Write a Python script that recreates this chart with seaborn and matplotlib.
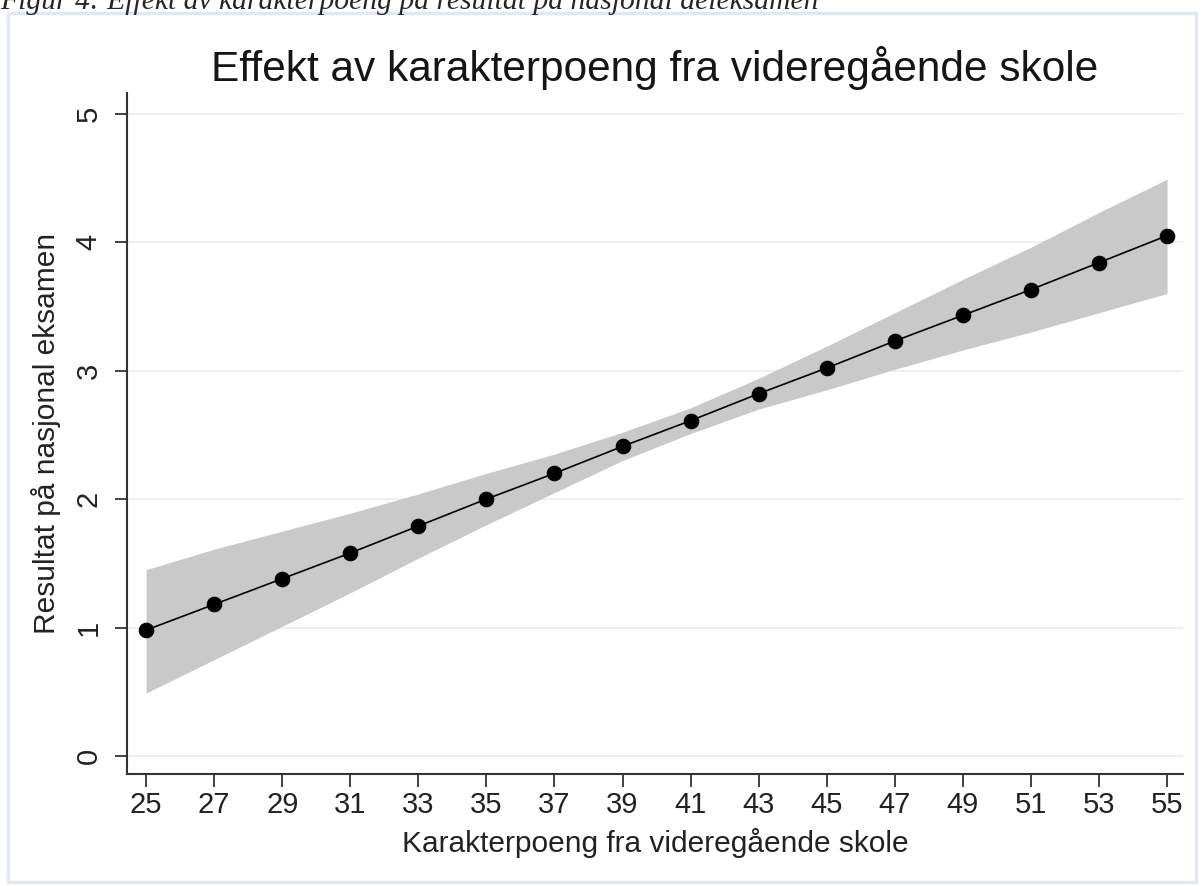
import pandas as pd
import matplotlib
matplotlib.use("Agg")
import matplotlib.pyplot as plt
from matplotlib.patches import Rectangle
import seaborn as sns

# karakterpoeng (x) og predikert resultat med konfidensintervall
poeng = [25, 27, 29, 31, 33, 35, 37, 39, 41, 43, 45, 47, 49, 51, 53, 55]
resultat = [0.98, 1.18, 1.38, 1.58, 1.79, 2.00, 2.20, 2.41, 2.61, 2.82, 3.02, 3.23, 3.43, 3.63, 3.84, 4.05]
nedre = [0.49, 0.75, 1.01, 1.27, 1.54, 1.80, 2.05, 2.30, 2.51, 2.70, 2.85, 3.01, 3.16, 3.30, 3.45, 3.60]
ovre = [1.45, 1.61, 1.75, 1.89, 2.04, 2.20, 2.35, 2.52, 2.71, 2.94, 3.19, 3.45, 3.71, 3.96, 4.23, 4.49]
y_ticks = [0, 1, 2, 3, 4, 5]

df = pd.DataFrame({"poeng": poeng, "resultat": resultat, "nedre": nedre, "ovre": ovre})

sns.set_style("white")
plt.rcParams["font.family"] = ["Liberation Sans", "DejaVu Sans"]

fig = plt.figure(figsize=(12.03, 8.86), dpi=100)
ax = fig.add_axes([0.1056, 0.1264, 0.8778, 0.7686])

# ramme rundt grafen
fig.patches.append(Rectangle((0.0067, 0.0045), 0.9875, 0.981, transform=fig.transFigure,
                             fill=False, edgecolor="#e1e8f0", linewidth=2.5))

# figurtekst, delvis kuttet i toppen
fig.text(0.0, 1 - 9 / 886, "Figur 4: Effekt av karakterpoeng på resultat på nasjonal deleksamen",
         family=["Liberation Serif", "DejaVu Serif"], style="italic", fontsize=21.3,
         va="baseline", ha="left")

for t in y_ticks:
    ax.axhline(t, color="#ececec", linewidth=1.2, zorder=0)

ax.fill_between(df["poeng"], df["nedre"], df["ovre"], color="#c9c9c9", linewidth=0, zorder=1)
sns.lineplot(data=df, x="poeng", y="resultat", ax=ax, color="black", linewidth=1.2,
             marker="o", markersize=10.5, markeredgecolor="black", zorder=3)

ax.set_xlim(24.44, 55.47)
ax.set_ylim(-0.14, 5.16)
ax.set_xticks(poeng)
ax.set_yticks(y_ticks)
ax.set_yticklabels([str(t) for t in y_ticks], rotation=90, va="center")

for side in ["top", "right"]:
    ax.spines[side].set_visible(False)
for side in ["left", "bottom"]:
    ax.spines[side].set_color("#333333")
    ax.spines[side].set_linewidth(1.5)

ax.tick_params(axis="both", direction="out", length=9, width=1.3, color="#333333",
               labelsize=21, labelcolor="#222222", left=True, bottom=True)
ax.tick_params(axis="y", pad=8.5)
ax.tick_params(axis="x", pad=3)

ax.set_title("Effekt av karakterpoeng fra videregående skole", fontsize=30.5, color="#151515", pad=9)
ax.set_xlabel("Karakterpoeng fra videregående skole", fontsize=21.5, color="#222222", labelpad=6.5)
ax.set_ylabel("Resultat på nasjonal eksamen", fontsize=21.5, color="#222222", labelpad=10)

fig.savefig("out.png", dpi=100)
